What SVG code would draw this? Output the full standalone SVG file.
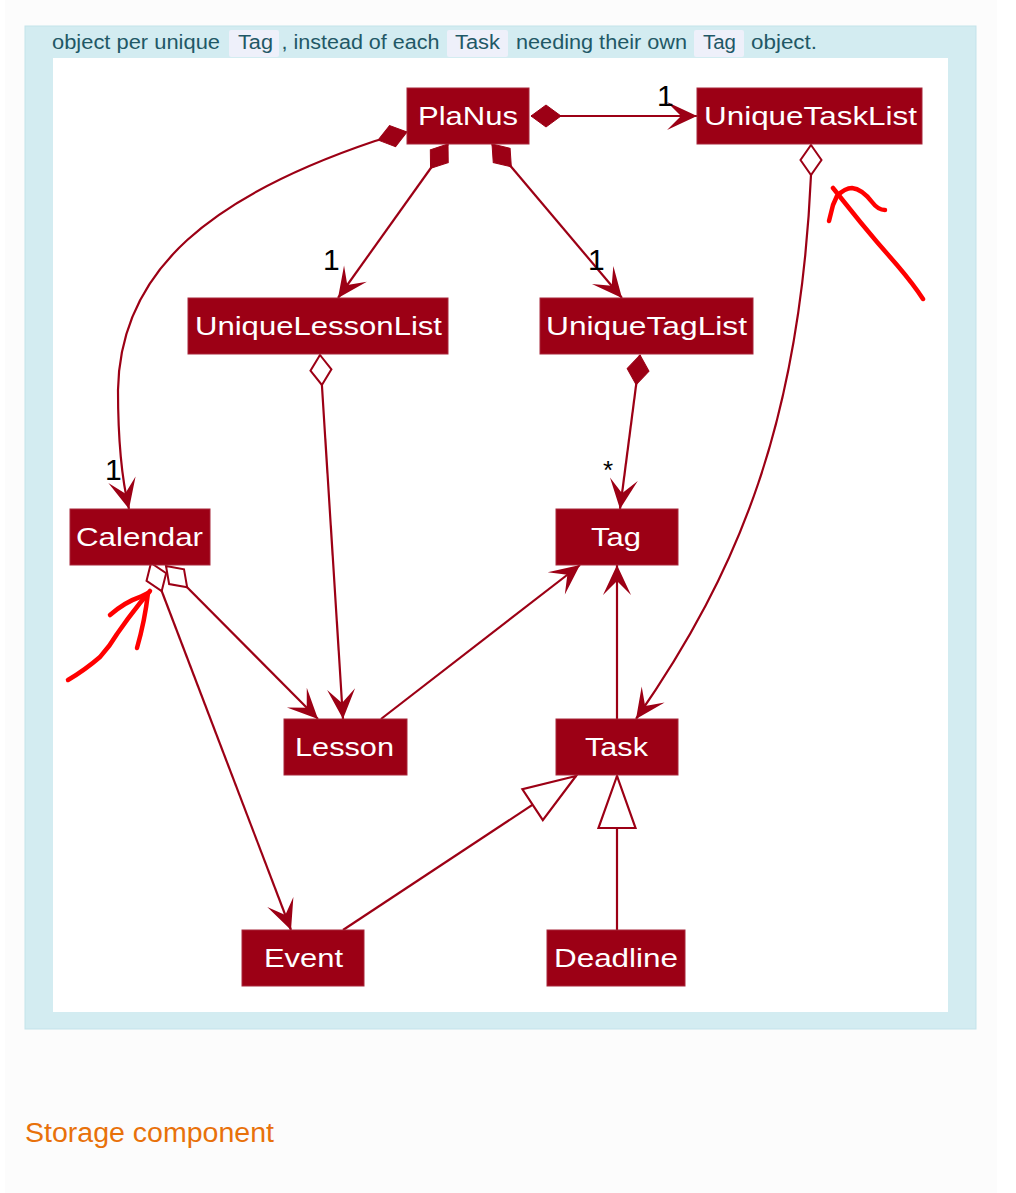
<svg xmlns="http://www.w3.org/2000/svg" width="1016" height="1193" viewBox="0 0 1016 1193">
<style>
.node rect{fill:#9c0015;stroke:#a8263a;stroke-width:1}
.node text{font-family:"Liberation Sans",Arial,sans-serif;font-size:25px;fill:#ffffff;text-anchor:start}
.edge{fill:none;stroke:#9c0015;stroke-width:2.2}
.lbl{font-family:"Liberation Sans",Arial,sans-serif;fill:#000000}
.para{font-family:"Liberation Sans",Arial,sans-serif;font-size:20px;fill:#1f5866}
.code{fill:#eef0fa}
.ann{fill:none;stroke:#ff0000;stroke-width:4.5;stroke-linecap:round;stroke-linejoin:round}
</style>
<defs>
<marker id="arrow" markerUnits="userSpaceOnUse" markerWidth="32" markerHeight="30" refX="30" refY="14" orient="auto" overflow="visible">
<path d="M30,14 L0,0 L14,14 L0,28 Z" fill="#9c0015"/>
</marker>
<marker id="dfill" markerUnits="userSpaceOnUse" markerWidth="32" markerHeight="24" refX="0" refY="11" orient="auto" overflow="visible">
<path d="M0,11 L15,0 L30,11 L15,22 Z" fill="#9c0015" stroke="#9c0015" stroke-width="1"/>
</marker>
<marker id="dopen" markerUnits="userSpaceOnUse" markerWidth="32" markerHeight="24" refX="0" refY="11" orient="auto" overflow="visible">
<path d="M0,11 L15,0.5 L30,11 L15,21.5 Z" fill="#ffffff" stroke="#9c0015" stroke-width="2"/>
</marker>
<marker id="tri" markerUnits="userSpaceOnUse" markerWidth="54" markerHeight="40" refX="52" refY="18.5" orient="auto" overflow="visible">
<path d="M52,18.5 L0,0 L0,37 Z" fill="#ffffff" stroke="#9c0015" stroke-width="2.2"/>
</marker>
</defs>

<rect x="0" y="0" width="1016" height="1193" fill="#ffffff"/>
<rect x="5" y="0" width="992" height="1193" fill="#fcfcfc"/>
<rect x="25" y="26" width="951" height="1003" fill="#d3ecf1" stroke="#c3e3ea" stroke-width="1"/>
<rect x="53" y="58" width="895" height="954" fill="#ffffff"/>

<g id="paragraph">
<rect class="code" x="229" y="30" width="50" height="27" rx="2"/>
<rect class="code" x="447" y="30" width="61" height="27" rx="2"/>
<rect class="code" x="694" y="30" width="50" height="27" rx="2"/>
<text class="para" x="52" y="49" textLength="168" lengthAdjust="spacingAndGlyphs">object per unique</text>
<text class="para" x="238" y="49" textLength="35" lengthAdjust="spacingAndGlyphs">Tag</text>
<text class="para" x="281.5" y="49" textLength="158" lengthAdjust="spacingAndGlyphs">, instead of each</text>
<text class="para" x="455" y="49" textLength="45" lengthAdjust="spacingAndGlyphs">Task</text>
<text class="para" x="516" y="49" textLength="171" lengthAdjust="spacingAndGlyphs">needing their own</text>
<text class="para" x="703" y="49" textLength="33" lengthAdjust="spacingAndGlyphs">Tag</text>
<text class="para" x="751" y="49" textLength="66" lengthAdjust="spacingAndGlyphs">object.</text>
</g>

<g id="connectors">
<path class="edge" d="M531,116 L697,116" marker-start="url(#dfill)" marker-end="url(#arrow)"/>
<path class="edge" d="M407,132 L375,141 C215,195 120,268 118,390 C118,440 122,480 129,509" marker-start="url(#dfill)" marker-end="url(#arrow)"/>
<path class="edge" d="M448,144 L338,298" marker-start="url(#dfill)" marker-end="url(#arrow)"/>
<path class="edge" d="M492,144 L622,298" marker-start="url(#dfill)" marker-end="url(#arrow)"/>
<path class="edge" d="M811,145 L811,175 C800,420 740,570 636,719" marker-start="url(#dopen)" marker-end="url(#arrow)"/>
<path class="edge" d="M320,355 L343,719" marker-start="url(#dopen)" marker-end="url(#arrow)"/>
<path class="edge" d="M640,355 L620,509" marker-start="url(#dfill)" marker-end="url(#arrow)"/>
<path class="edge" d="M166,566 L318,719" marker-start="url(#dopen)" marker-end="url(#arrow)"/>
<path class="edge" d="M151,563 L291,930" marker-start="url(#dopen)" marker-end="url(#arrow)"/>
<path class="edge" d="M381,719 L580,565" marker-end="url(#arrow)"/>
<path class="edge" d="M617,719 L617,565" marker-end="url(#arrow)"/>
<path class="edge" d="M343,930 L576,776" marker-end="url(#tri)"/>
<path class="edge" d="M617,930 L617,776" marker-end="url(#tri)"/>
<text class="lbl" x="657" y="106" font-size="30">1</text>
<text class="lbl" x="323" y="270" font-size="30">1</text>
<text class="lbl" x="588" y="270" font-size="30">1</text>
<text class="lbl" x="105" y="480" font-size="30">1</text>
<text class="lbl" x="603" y="479" font-size="26">*</text>
</g>

<g id="PlaNus" class="node"><rect x="407" y="88" width="122" height="56"/><text x="418" y="125" textLength="100" lengthAdjust="spacingAndGlyphs">PlaNus</text></g>
<g id="UniqueTaskList" class="node"><rect x="697" y="88" width="225" height="56"/><text x="704" y="125" textLength="213" lengthAdjust="spacingAndGlyphs">UniqueTaskList</text></g>
<g id="UniqueLessonList" class="node"><rect x="188" y="298" width="260" height="56"/><text x="195" y="335" textLength="247" lengthAdjust="spacingAndGlyphs">UniqueLessonList</text></g>
<g id="UniqueTagList" class="node"><rect x="540" y="298" width="213" height="56"/><text x="546" y="335" textLength="201" lengthAdjust="spacingAndGlyphs">UniqueTagList</text></g>
<g id="Calendar" class="node"><rect x="70" y="509" width="140" height="56"/><text x="76" y="546" textLength="127" lengthAdjust="spacingAndGlyphs">Calendar</text></g>
<g id="Tag" class="node"><rect x="556" y="509" width="122" height="56"/><text x="591" y="546" textLength="50" lengthAdjust="spacingAndGlyphs">Tag</text></g>
<g id="Lesson" class="node"><rect x="284" y="719" width="123" height="56"/><text x="295" y="756" textLength="99" lengthAdjust="spacingAndGlyphs">Lesson</text></g>
<g id="Task" class="node"><rect x="556" y="719" width="122" height="56"/><text x="585" y="756" textLength="63" lengthAdjust="spacingAndGlyphs">Task</text></g>
<g id="Event" class="node"><rect x="242" y="930" width="122" height="56"/><text x="264" y="967" textLength="79" lengthAdjust="spacingAndGlyphs">Event</text></g>
<g id="Deadline" class="node"><rect x="547" y="930" width="138" height="56"/><text x="554" y="967" textLength="124" lengthAdjust="spacingAndGlyphs">Deadline</text></g>

<g id="annotations">
<path class="ann" d="M829,221 L833,205 L837,196 Q845,188 852,188 Q862,189 872,202 Q878,210 885,210"/>
<path class="ann" d="M833,188 L845,203 Q860,222 877,242 L897,265 Q914,285 923,299"/>
<path class="ann" d="M68,680 Q85,670 100,657 Q110,646 117,634 Q128,618 140,603 L150,591"/>
<path class="ann" d="M110,615 Q125,602 140,597 L148,593 Q145,620 137,648"/>
</g>

<text x="25" y="1142" font-family="Liberation Sans, Arial, sans-serif" font-size="27" fill="#e8710a" textLength="249" lengthAdjust="spacingAndGlyphs">Storage component</text>
</svg>
